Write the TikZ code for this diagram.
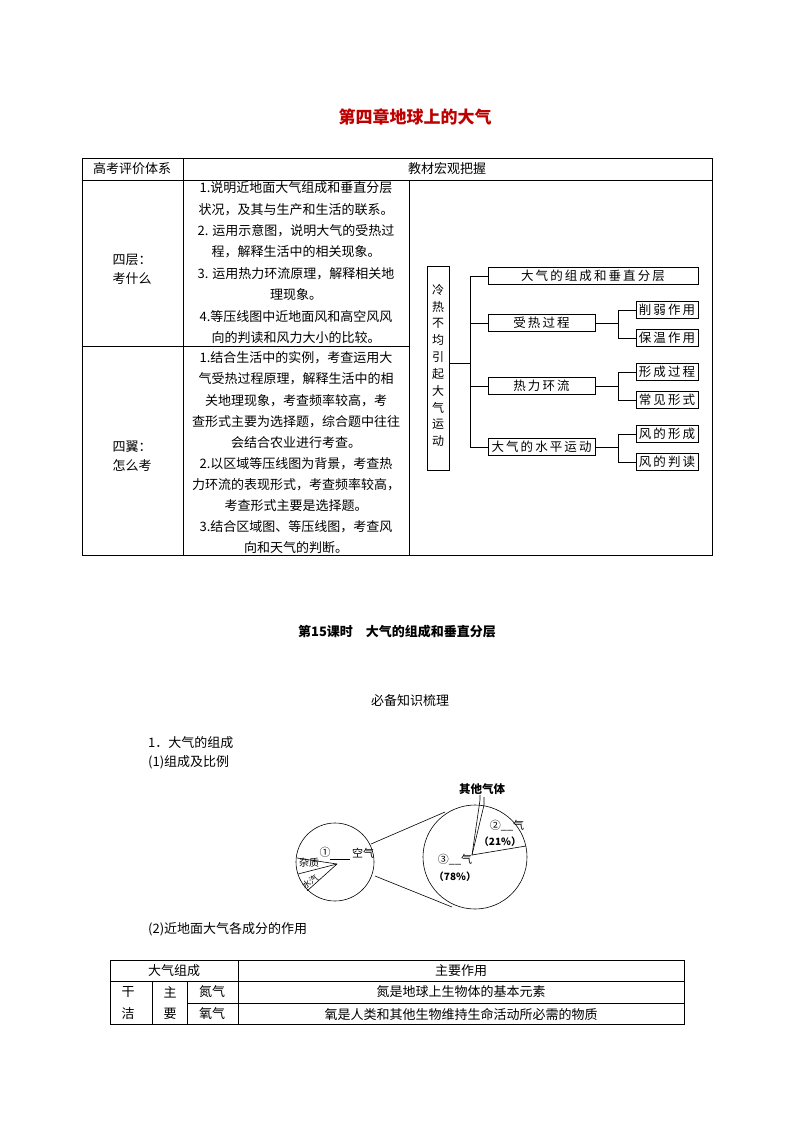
\documentclass[tikz,border=0pt]{standalone}
\usepackage{fontspec}
\setmainfont{Noto Sans CJK SC}
\begin{document}
\begin{tikzpicture}[x=1pt,y=-1pt,
  every node/.style={inner sep=0pt,font=\fontsize{13}{15}\selectfont},
  tl/.style={line width=0.6pt},
  mbox/.style={draw,line width=0.6pt,minimum height=17pt,font=\fontsize{12.5}{14}\selectfont},
  ml/.style={line width=0.6pt}]
\useasboundingbox (0,0) rectangle (794,1123);
\node[text=red!75!black,font=\fontsize{17}{19}\selectfont\bfseries] (title) at (415,117) {第四章地球上的大气};
% top table
\draw[tl] (82,158) rectangle (712,555);
\draw[tl] (82,180) -- (712,180);
\draw[tl] (183,158) -- (183,555);
\draw[tl] (409,180) -- (409,555);
\draw[tl] (82,346) -- (409,346);
\node (h1) at (132,169) {高考评价体系};
\node (h2) at (447,169) {教材宏观把握};
\node[align=center] (c1) at (132,269) {四层：\\[4pt]考什么};
\node[align=center] (c2) at (132,456) {四翼：\\[4pt]怎么考};
\foreach \t [count=\i] in {1.说明近地面大气组成和垂直分层,状况，及其与生产和生活的联系。,2. 运用示意图，说明大气的受热过,程，解释生活中的相关现象。,3. 运用热力环流原理，解释相关地,理现象。,4.等压线图中近地面风和高空风风,向的判读和风力大小的比较。}
  \node (a\i) at (296,{188+21.4*(\i-1)}) {\t};
\foreach \t [count=\i] in {1.结合生活中的实例，考查运用大,气受热过程原理，解释生活中的相,关地理现象，考查频率较高，考,查形式主要为选择题，综合题中往往,会结合农业进行考查。,2.以区域等压线图为背景，考查热,力环流的表现形式，考查频率较高，,考查形式主要是选择题。,3.结合区域图、等压线图，考查风,向和天气的判断。}
  \node (b\i) at (296,{358+21.1*(\i-1)}) {\t};
% mind map
\node[draw,ml,minimum width=22pt,minimum height=204pt] (root) at (438,368) {};
\foreach \t [count=\i] in {冷,热,不,均,引,起,大,气,运,动}
  \node[font=\fontsize{12}{13}\selectfont] (r\i) at (438,{290+16.8*(\i-1)}) {\t};
\node[mbox,minimum width=210pt] (m1) at (593,276) {大\,气\,的\,组\,成\,和\,垂\,直\,分\,层};
\node[mbox,minimum width=107pt] (m2) at (541.5,323) {受\,热\,过\,程};
\node[mbox,minimum width=107pt] (m3) at (541.5,386) {热\,力\,环\,流};
\node[mbox,minimum width=107pt] (m4) at (541.5,447) {大\,气\,的\,水\,平\,运\,动};
\node[mbox,minimum width=62pt] (s1) at (667,310) {削\,弱\,作\,用};
\node[mbox,minimum width=62pt] (s2) at (667,338) {保\,温\,作\,用};
\node[mbox,minimum width=62pt] (s3) at (667,372) {形\,成\,过\,程};
\node[mbox,minimum width=62pt] (s4) at (667,400) {常\,见\,形\,式};
\node[mbox,minimum width=62pt] (s5) at (667,434) {风\,的\,形\,成};
\node[mbox,minimum width=62pt] (s6) at (667,462) {风\,的\,判\,读};
\coordinate (tr) at (470,363);
\draw[ml] (root.east|-tr) -- (tr);
\draw[ml] (m1.west) -| (470,447) -- (m4.west);
\draw[ml] (470,323) -- (m2.west);
\draw[ml] (470,386) -- (m3.west);
\foreach \m/\a/\b in {m2/s1/s2,m3/s3/s4,m4/s5/s6}{
  \draw[ml] (\m.east) -- (618,0|-\m.east);
  \draw[ml] (\a.west) -| (618,0|-\b.west) -- (\b.west);
}
% section
\node[font=\fontsize{13}{15}\selectfont\bfseries] (sec) at (397,632) {第15课时\quad 大气的组成和垂直分层};
\node (bb) at (410,701) {必备知识梳理};
\node[anchor=west] (p1) at (148,743) {1．大气的组成};
\node[anchor=west] (p2) at (148,762) {(1)组成及比例};
\node[anchor=west] (p3) at (148,929) {(2)近地面大气各成分的作用};
% pie charts
\draw[ml] (335,862) circle (39);
\draw[ml] (475,857) circle (52);
\draw[ml] (371,844) -- (445,812);
\draw[ml] (375,876) -- (452,907);
\coordinate (sc) at (337,864);
\draw[ml] (sc) -- (297,858);
\draw[ml] (sc) -- (298,874);
\draw[ml] (sc) -- (307,891);
\draw[ml] (330,859) -- (350,859);
\node[font=\fontsize{11}{12}\selectfont] (q1) at (325,852) {①};
\node[font=\fontsize{11}{12}\selectfont] (q1b) at (363,853) {空气};
\node[font=\fontsize{10}{11}\selectfont] (zz) at (309,863) {杂质};
\node[font=\fontsize{8.5}{9}\selectfont,rotate=35] (sq) at (310,882) {水汽};
\coordinate (bc) at (472,855);
\draw[ml] (bc) -- (480,800) -- (480,795);
\draw[ml] (bc) -- (484,805) -- (484,797);
\draw[ml] (bc) -- (526,846);
\node[font=\fontsize{11.5}{12}\selectfont\bfseries] (qt) at (482,789) {其他气体};
\node[font=\fontsize{11}{12}\selectfont] (q2) at (507,826) {②\_\_气};
\node[font=\fontsize{10}{11}\selectfont\bfseries] (p21) at (500,842) {（21\%）};
\node[font=\fontsize{11}{12}\selectfont] (q3) at (455,860) {③\_\_气};
\node[font=\fontsize{10}{11}\selectfont\bfseries] (p78) at (455,877) {（78\%）};
% bottom table
\draw[tl] (110,960) rectangle (684,1024);
\draw[tl] (110,981) -- (684,981);
\draw[tl] (187,1003) -- (684,1003);
\draw[tl] (238,960) -- (238,1024);
\draw[tl] (152,981) -- (152,1024);
\draw[tl] (187,981) -- (187,1024);
\node (t1) at (174,971) {大气组成};
\node (t2) at (461,971) {主要作用};
\node (t3) at (128,992) {干};
\node (t4) at (128,1014) {洁};
\node (t5) at (170,992) {主};
\node (t6) at (170,1014) {要};
\node (t7) at (212,992) {氮气};
\node (t8) at (212,1014) {氧气};
\node (t9) at (461,992) {氮是地球上生物体的基本元素};
\node (t10) at (461,1014) {氧是人类和其他生物维持生命活动所必需的物质};
\end{tikzpicture}
\end{document}
